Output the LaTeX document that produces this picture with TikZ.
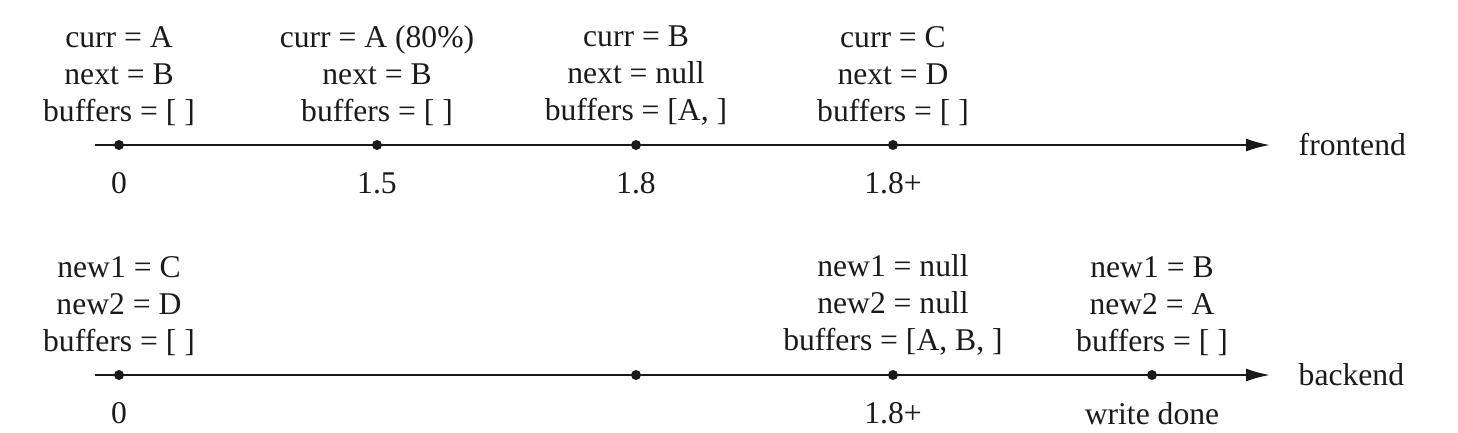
\documentclass[tikz,border=0pt]{standalone}
\usepackage{fontspec}
\setmainfont{Liberation Serif}
\usetikzlibrary{arrows.meta, positioning}
\definecolor{ink}{HTML}{1A1A1A}

\begin{document}
\begin{tikzpicture}[
    evdot/.style={circle, fill=ink, inner sep=0pt, minimum size=1mm},
    timeline/.style={draw=ink, line width=0.6pt, -{Latex[length=2.4mm, width=1.3mm]}},
    state/.style={align=center, inner sep=0pt, text=ink, font=\fontsize{9}{10.5}\selectfont},
    when/.style={inner sep=0pt, text=ink, font=\fontsize{9}{10.5}\selectfont},
    axislbl/.style={anchor=west, inner sep=0pt, text=ink, font=\fontsize{9}{10.5}\selectfont}
  ]
  \useasboundingbox (0,0) rectangle (14.58,4.32);
  % frontend
  \coordinate (fstart) at (0.95,2.87);
  \coordinate (fend) at (12.70,2.87);
  \draw[timeline] (fstart) -- (fend);
  \node[axislbl, right=2.8mm of fend] (flbl) {frontend};
  \node[evdot] (f0) at (1.19,2.87) {};
  \node[evdot] (f1) at (3.77,2.87) {};
  \node[evdot] (f2) at (6.36,2.87) {};
  \node[evdot] (f3) at (8.93,2.87) {};
  \node[state, above=1.3mm of f0] (fs0) {curr = A\\next = B\\buffers = [ ]};
  \node[state, above=1.3mm of f1] (fs1) {curr = A (80\%)\\next = B\\buffers = [ ]};
  \node[state, above=1.3mm of f2] (fs2) {curr = B\\next = null\\buffers = [A, ]};
  \node[state, above=1.3mm of f3] (fs3) {curr = C\\next = D\\buffers = [ ]};
  \node[when, below=2.1mm of f0] (ft0) {0};
  \node[when, below=2.1mm of f1] (ft1) {1.5};
  \node[when, below=2.1mm of f2] (ft2) {1.8};
  \node[when, below=2.1mm of f3] (ft3) {1.8+};
  % backend
  \coordinate (bstart) at (0.95,0.57);
  \coordinate (bend) at (12.70,0.57);
  \draw[timeline] (bstart) -- (bend);
  \node[axislbl, right=2.8mm of bend] (blbl) {backend};
  \node[evdot] (b0) at (1.19,0.57) {};
  \node[evdot] (b1) at (6.36,0.57) {};
  \node[evdot] (b2) at (8.93,0.57) {};
  \node[evdot] (b3) at (11.52,0.57) {};
  \node[state, above=1.3mm of b0] (bs0) {new1 = C\\new2 = D\\buffers = [ ]};
  \node[state, above=1.3mm of b2] (bs2) {new1 = null\\new2 = null\\buffers = [A, B, ]};
  \node[state, above=1.3mm of b3] (bs3) {new1 = B\\new2 = A\\buffers = [ ]};
  \node[when, below=2.1mm of b0] (bt0) {0};
  \node[when, below=2.1mm of b2] (bt2) {1.8+};
  \node[when, below=2.1mm of b3] (bt3) {write done};
\end{tikzpicture}
\end{document}
